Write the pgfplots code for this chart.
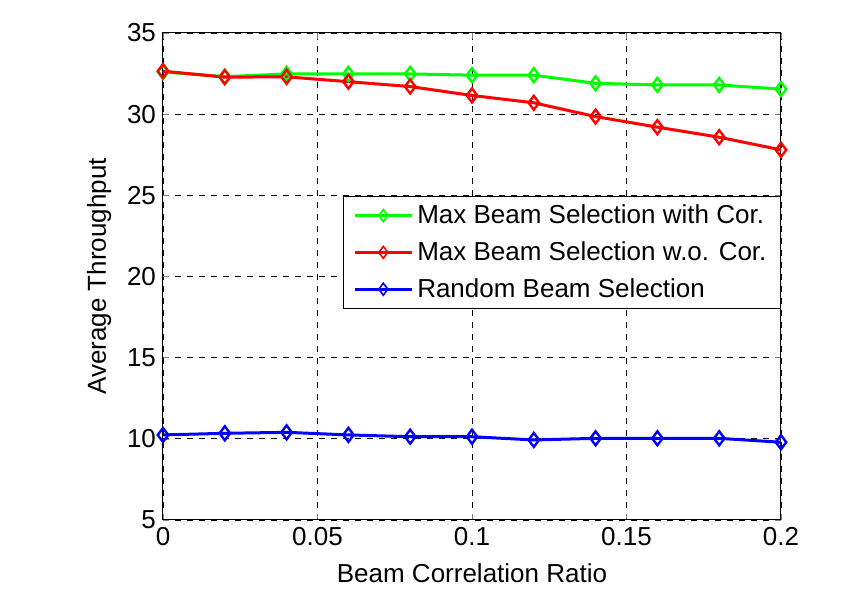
\documentclass[border=0pt]{standalone}
\usepackage{pgfplots}
\pgfplotsset{compat=1.18}
\usepackage{fontspec}
\setmainfont{Liberation Sans}
\begin{document}
\begin{tikzpicture}
\path[use as bounding box] (-81.5pt,-39.5pt) rectangle (345pt,260pt);
\begin{axis}[
  at={(0,0)}, anchor=south west,
  scale only axis, width=309pt, height=243.5pt,
  xmin=0, xmax=0.2, ymin=5, ymax=35,
  xtick={0,0.05,0.1,0.15,0.2}, xticklabels={0,0.05,0.1,0.15,0.2},
  ytick={5,10,15,20,25,30,35},
  tick align=inside,
  major tick length=3pt,
  grid=major,
  grid style={black, dashed, line width=0.4pt},
  axis line style={black, line width=0.5pt},
  /pgf/number format/assume math mode=true,
  tick label style={font=\fontsize{13}{15}\selectfont},
  label style={font=\fontsize{13}{15}\selectfont},
  xlabel={Beam Correlation Ratio},
  ylabel={Average Throughput},
  xlabel style={yshift=-2pt},
  ylabel style={yshift=1pt},
  legend style={at={(1,0.665)}, anchor=north east, draw=black, line width=0.5pt,
    font=\fontsize{13}{15}\selectfont, row sep=3.5pt, inner xsep=5pt, inner ysep=2pt},
  legend cell align=left,
  legend image code/.code={\draw[mark repeat=2,mark phase=2,mark size=3pt,mark options={line width=0.8pt}] plot coordinates {(0cm,0cm) (0.5cm,0cm) (1cm,0cm)};},
  every axis plot/.append style={line width=1.5pt, mark=diamond, mark size=3.5pt, mark options={solid, line width=1.2pt, fill=none}},
]
\addplot[color={rgb,255:red,0;green,255;blue,0}] coordinates {
(0,32.6) (0.02,32.31) (0.04,32.48) (0.06,32.48) (0.08,32.48) (0.10,32.4) (0.12,32.4) (0.14,31.9) (0.16,31.8) (0.18,31.8) (0.20,31.54)};
\addlegendentry{Max Beam Selection with Cor.}
\addplot[color={rgb,255:red,255;green,0;blue,0}] coordinates {
(0,32.65) (0.02,32.28) (0.04,32.3) (0.06,32.0) (0.08,31.7) (0.10,31.15) (0.12,30.7) (0.14,29.85) (0.16,29.2) (0.18,28.58) (0.20,27.8)};
\addlegendentry{Max Beam Selection w.o. Cor.}
\addplot[color={rgb,255:red,0;green,0;blue,255}] coordinates {
(0,10.24) (0.02,10.34) (0.04,10.4) (0.06,10.24) (0.08,10.13) (0.10,10.13) (0.12,9.93) (0.14,10.03) (0.16,10.03) (0.18,10.03) (0.20,9.79)};
\addlegendentry{Random Beam Selection}
\end{axis}
\end{tikzpicture}
\end{document}
